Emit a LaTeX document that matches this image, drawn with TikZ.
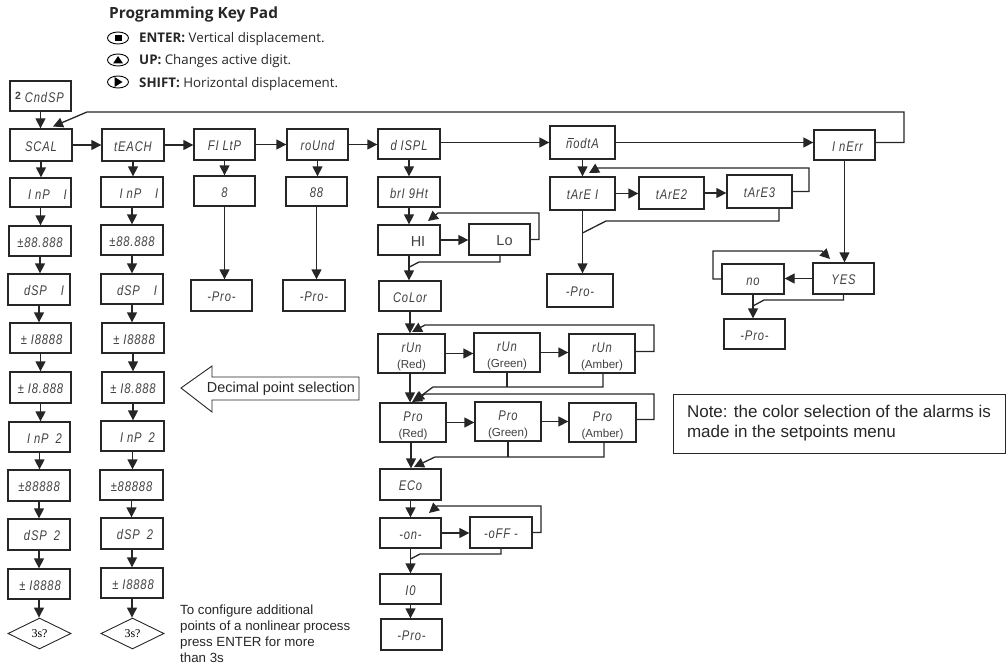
\documentclass[tikz,border=0pt]{standalone}
\usepackage{fontspec}
\setmainfont{Liberation Sans}
\newfontfamily\segf{Liberation Sans}[ItalicFont=* Italic,FakeStretch=0.8,LetterSpace=6]
\newfontfamily\tah{Open Sans}
\usetikzlibrary{arrows.meta,shapes.geometric}
\tikzset{
  x=1pt,y=-1pt,
  lin/.style={line width=1.3pt,draw=black!85,line join=miter},
  arr/.style={lin,-{Triangle[length=10pt,width=10pt]}},
  box/.style={draw=black!85,line width=1.3pt,inner sep=0pt,align=center,font=\segf\itshape\fontsize{14}{15}\selectfont,text=black!75},
  plain/.style={text=black!85,inner sep=0pt},
  keyline/.style={anchor=west,inner sep=0pt,font=\tah\fontsize{13.3}{15}\selectfont,text=black!85},
  sdiam/.style={diamond,aspect=2,draw=black!85,line width=.9pt,inner sep=0pt,minimum width=63pt,minimum height=31pt,font=\fontspec{Liberation Serif}\fontsize{12}{13}\selectfont},
}
\newcommand{\bx}[6]{\node[box,minimum width=#3pt-#1pt,minimum height=#4pt-#2pt] (#5) at ({(#1+#3)/2},{(#2+#4)/2}) {\rule{0pt}{13pt}#6};}
\newcommand{\cl}[1]{\\[1pt]{\normalfont\fontsize{11.6}{12}\selectfont #1}}
\newcommand{\tp}{\rule{0pt}{16pt}}
\begin{document}
\begin{tikzpicture}
\useasboundingbox (0,0) rectangle (1006,666);
% legend
\node[anchor=west,inner sep=0pt,font=\tah\bfseries\fontsize{15.4}{17}\selectfont,text=black!85] (title) at (109,15) {Programming Key Pad};
\node[keyline] (l1) at (139,39) {\textbf{ENTER:} Vertical displacement.};
\node[keyline] (l2) at (139,61) {\textbf{UP:} Changes active digit.};
\node[keyline] (l3) at (139,84) {\textbf{SHIFT:} Horizontal displacement.};
\draw[line width=.9pt] (118,38) ellipse (10.5 and 6);
\fill (114.5,35) rectangle (121.5,41);
\draw[line width=.9pt] (118,60) ellipse (10.5 and 6);
\fill (113,63.5) -- (118,56) -- (123,63.5) -- cycle;
\draw[line width=.9pt] (118,82) ellipse (10.5 and 6);
\fill (114.5,77) -- (122.5,82) -- (114.5,87) -- cycle;
% column 1
\bx{10}{81}{71}{111}{cnd}{\hspace*{-2pt}\textnormal{\bfseries\fontsize{10.5}{10}\selectfont\raisebox{2.5pt}{2}} CndSP}
\bx{10}{129}{72}{161}{scal}{SCAL}
\bx{10}{178}{71}{207}{a1}{\hspace*{14pt}I nP\quad I}
\bx{9}{226}{71}{256}{a2}{±88.888}
\bx{8}{274}{70}{305}{a3}{\hspace*{10pt}dSP\quad I}
\bx{10}{323}{71}{353}{a4}{\hspace*{2pt}± I8888}
\bx{10}{372}{71}{403}{a5}{± I8.888}
\bx{9}{422}{70}{452}{a6}{\hspace*{10pt}I nP\enspace 2}
\bx{8}{470}{70}{501}{a7}{±88888}
\bx{8}{519}{70}{550}{a8}{\hspace*{6pt}dSP\enspace 2}
\bx{8}{569}{70}{599}{a9}{\hspace*{2pt}± I8888}
\node[sdiam] (d1) at (39.5,633.5) {3s?};
% column 2
\bx{102}{129}{164}{161}{teach}{tEACH}
\bx{101}{177}{163}{207}{b1}{\hspace*{14pt}I nP\quad I}
\bx{101}{225}{163}{255}{b2}{±88.888}
\bx{101}{274}{163}{304}{b3}{\hspace*{10pt}dSP\quad I}
\bx{102}{323}{164}{353}{b4}{\hspace*{2pt}± I8888}
\bx{102}{372}{164}{403}{b5}{± I8.888}
\bx{101}{421}{164}{451}{b6}{\hspace*{10pt}I nP\enspace 2}
\bx{100}{470}{163}{500}{b7}{±88888}
\bx{101}{518}{163}{549}{b8}{\hspace*{6pt}dSP\enspace 2}
\bx{101}{568}{163}{598}{b9}{\hspace*{2pt}± I8888}
\node[sdiam] (d2) at (132.5,633.5) {3s?};
% filter, round
\bx{194}{129}{255}{160}{filt}{FI LtP}
\bx{194}{176}{255}{206}{f8}{8}
\bx{191}{280}{252}{311}{fp}{-Pro-}
\bx{287}{129}{348}{160}{rnd}{roUnd}
\bx{286}{177}{347}{206}{r8}{88}
\bx{283}{280}{345}{311}{rp}{-Pro-}
% display
\bx{378}{129}{440}{159}{dis}{d ISPL}
\bx{378}{177}{440}{207}{bri}{brI 9Ht}
\bx{378}{225}{440}{255}{hi}{\hspace*{18pt}\normalfont\fontsize{14.5}{15}\selectfont HI}
\bx{469}{224}{530}{255}{lo}{\hspace*{10pt}\normalfont\fontsize{14.5}{15}\selectfont Lo}
\bx{379}{281}{441}{311}{col}{CoLor}
\bx{378}{334}{445}{373}{rr}{\tp rUn\cl{(Red)}}
\bx{474}{333}{540}{372}{rg}{\tp rUn\cl{(Green)}}
\bx{569}{334}{635}{373}{ra}{\tp rUn\cl{(Amber)}}
\bx{380}{403}{446}{442}{pr}{\tp Pro\cl{(Red)}}
\bx{475}{402}{541}{441}{pg}{\tp Pro\cl{(Green)}}
\bx{569}{403}{636}{442}{pa}{\tp Pro\cl{(Amber)}}
\bx{380}{469}{441}{500}{eco}{ECo}
\bx{380}{518}{441}{548}{on}{-on-}
\bx{470}{517}{532}{548}{off}{-oFF -}
\bx{380}{574}{441}{604}{ten}{I0}
\bx{381}{619}{442}{650}{dp}{-Pro-}
% mode
\bx{550}{126}{615}{159}{mod}{\rlap{\hspace*{1.5pt}\rule[10pt]{6.5pt}{.6pt}}nodtA}
\bx{550}{177}{615}{210}{t1}{tArE I}
\bx{639}{177}{704}{209}{t2}{tArE2}
\bx{727}{175}{792}{208}{t3}{tArE3}
\bx{547}{274}{613}{307}{tp}{-Pro-}
% inerr
\bx{814}{130}{875}{160}{ine}{\hspace*{6pt}I nErr}
\bx{813}{263}{874}{294}{yes}{YES}
\bx{722}{264}{784}{294}{no}{no}
\bx{724}{319}{785}{349}{np}{-Pro-}
% vertical flows
\foreach \p/\q in {cnd/scal,scal/a1,a1/a2,a2/a3,a3/a4,a4/a5,a5/a6,a6/a7,a7/a8,a8/a9,a9/d1,
  teach/b1,b1/b2,b2/b3,b3/b4,b4/b5,b5/b6,b6/b7,b7/b8,b8/b9,b9/d2,
  filt/f8,rnd/r8,dis/bri,bri/hi,col/rr,eco/on,ten/dp,mod/t1,no/np,
  f8/fp,r8/rp,hi/col,on/ten,t1/tp,ine/yes}
  \draw[arr] (\p.south) -- (\p.south |- \q.north);
\draw[arr] (col.south |- rr.south) -- (col.south |- pr.north);
\draw[arr] ([xshift=-2pt]pr.south) -- ([xshift=-2pt]pr.south |- eco.north);
% horizontal flows
\foreach \p/\q in {scal/teach,teach/filt,filt/rnd,rnd/dis,mod/ine,hi/lo,rr/rg,rg/ra,pr/pg,pg/pa,on/off,t1/t2,t2/t3}
  \draw[arr] (\p.east) -- (\p.east -| \q.west);
\draw[arr] (mod.west -| dis.east) -- (mod.west);
\draw[arr] (yes.west) -- (yes.west -| no.east);
% returns
\coordinate (c1) at (904,112); \coordinate (c2) at (87,112); \coordinate (c3) at (53,126.5);
\draw[arr] (ine.east |- mod.east) -| (c1) -- (c2) -- (c3);
\coordinate (c4) at (539,213); \coordinate (c5) at (438,213); \coordinate (c6) at (428,221);
\draw[arr] (lo.east) -| (c4) -- (c5) -- (c6);
\coordinate (c7) at (500,262); \coordinate (c8) at (419,262); \coordinate (c9) at (409.5,267);
\draw[lin] (c7 |- lo.south) -- (c7) -- (c8) -- (c9);
\coordinate (e1) at (654,325); \coordinate (e2) at (425,325); \coordinate (e3) at (412,332);
\draw[arr] ([yshift=2pt]ra.east) -| (e1) -- (e2) -- (e3);
\coordinate (e4) at (603,387); \coordinate (e5) at (433,387); \coordinate (e6) at (414,401);
\draw[arr] (e4 |- ra.south) -- (e4) -- (e5) -- (e6);
\draw[lin] (rg.south) -- (rg.south |- e4);
\coordinate (g1) at (654,394); \coordinate (g2) at (425,394); \coordinate (g3) at (412,402);
\draw[arr] ([yshift=3pt]pa.east) -| (g1) -- (g2) -- (g3);
\coordinate (g4) at (604,457); \coordinate (g5) at (435,457); \coordinate (g6) at (414,467);
\draw[arr] (g4 |- pa.south) -- (g4) -- (g5) -- (g6);
\draw[lin] (pg.south) -- (pg.south |- g4);
\coordinate (h1) at (541,506); \coordinate (h2) at (437,506); \coordinate (h3) at (429,513);
\draw[arr] (off.east) -| (h1) -- (h2) -- (h3);
\coordinate (h4) at (501,554); \coordinate (h5) at (420,554); \coordinate (h6) at (410.5,559);
\draw[lin] (h4 |- off.south) -- (h4) -- (h5) -- (h6);
\coordinate (k1) at (809,168); \coordinate (k2) at (598,168); \coordinate (k3) at (589,173);
\draw[arr] (t3.east) -| (k1) -- (k2) -- (k3);
\coordinate (k4) at (779,221); \coordinate (k5) at (606,221); \coordinate (k6) at (582.5,233);
\draw[lin] (k4 |- t3.south) -- (k4) -- (k5) -- (k6);
\coordinate (m1) at (713,279); \coordinate (m2) at (713,251); \coordinate (m3) at (822,251); \coordinate (m4) at (830,259);
\draw[arr] (no.west) -- (m1) -- (m2) -- (m3) -- (m4);
\coordinate (m5) at (843.5,300); \coordinate (m6) at (764,300); \coordinate (m7) at (753,306);
\draw[lin] (yes.south) -- (m5) -- (m6) -- (m7);
% annotations
\draw[black!85,line width=.9pt] (181,388) -- (212,366) -- (212,377) -- (359,377) -- (359,400) -- (212,400) -- (212,412) -- cycle;
\node[plain,font=\fontsize{14.4}{15}\selectfont] (dec) at (281,388.5) {Decimal point selection};
\node[draw=black!85,line width=1pt,minimum width=332pt,minimum height=59pt,inner sep=0pt,text=black!85,align=left,font=\fontsize{17}{20}\selectfont] (note) at (839,423.5) {Note: the color selection of the alarms is\\made in the setpoints menu};
\node[plain,anchor=north west,align=left,font=\fontsize{13.3}{15.8}\selectfont] (cfg) at (180,605) {To configure additional\\points of a nonlinear process\\press ENTER for more\\than 3s};
\end{tikzpicture}
\end{document}
